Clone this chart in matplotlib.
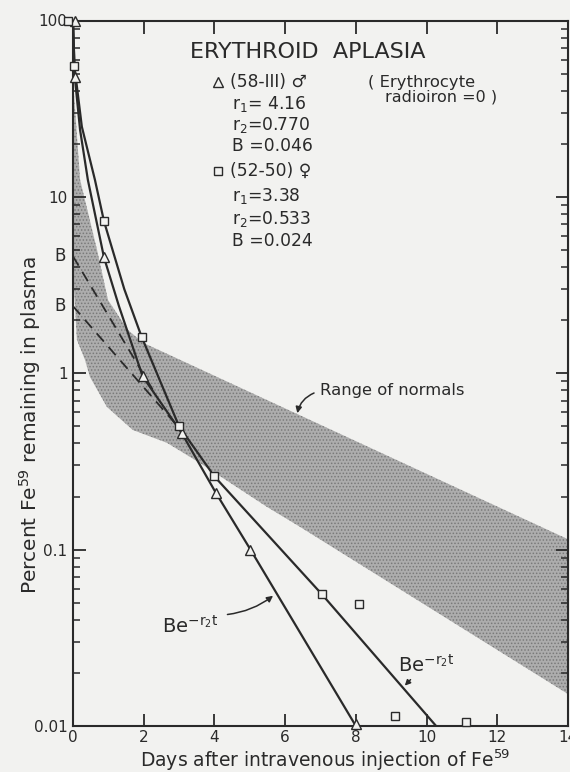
import numpy as np
import matplotlib
matplotlib.use("Agg")
import matplotlib.pyplot as plt
from matplotlib.ticker import LogLocator, NullFormatter

# Aplasia eritroide: % de Fe59 que queda en plasma frente a días

# curva (58-III), triángulos
tri_t = [0, 0.05, 0.2, 0.42, 0.875, 1.3, 1.97, 3.07, 4.04, 5.02, 8.0]
tri_v = [100, 48, 24, 12.5, 4.55, 2.4, 0.96, 0.46, 0.21, 0.1, 0.01]
tri_pts_t = [0.06, 0.05, 0.875, 1.97, 3.07, 4.04, 5.02, 8.0]
tri_pts_v = [100, 48, 4.55, 0.96, 0.46, 0.21, 0.1, 0.0103]

# curva (52-50), cuadrados
sq_t = [0, 0.04, 0.25, 0.62, 0.876, 1.45, 1.94, 3.0, 4.0, 7.04, 10.27]
sq_v = [100, 55, 25, 12.5, 7.28, 3.0, 1.61, 0.50, 0.26, 0.0558, 0.01]
sq_pts_t = [-0.15, 0.04, 0.876, 1.94, 3.0, 4.0, 7.04, 8.08, 9.11, 11.12]
sq_pts_v = [100, 55, 7.28, 1.61, 0.50, 0.26, 0.0558, 0.049, 0.0114, 0.0106]

# rectas B e^{-r2 t} (tramo discontinuo)
tri_b_t = [0, 2.3]
tri_b_v = [4.6, 0.78]
sq_b_t = [0, 3.0]
sq_b_v = [2.4, 0.49]

# banda de normales
upper_t = [0, 0.2, 0.68, 0.99, 1.55, 1.98, 14.04]
upper_v = [46, 12.5, 5.0, 2.6, 1.76, 1.49, 0.1135]
lower_t = [0, 0.03, 0.11, 0.34, 0.48, 0.96, 1.69, 2.66, 3.59, 5.48, 6.41, 14.04]
lower_v = [46, 3.0, 1.55, 1.19, 0.953, 0.644, 0.477, 0.403, 0.31, 0.175, 0.135, 0.015]

y_ticks = [0.01, 0.1, 1, 10, 100]
y_labels = ['0.01', '0.1', '1', '10', '100']
x_ticks = [0, 2, 4, 6, 8, 10, 12, 14]

ink = '#2a2a2a'
paper = '#f2f2f0'

plt.rcParams['font.family'] = ['DejaVu Sans']
plt.rcParams['mathtext.default'] = 'regular'
plt.rcParams['hatch.linewidth'] = 0.7

W, H = 570, 772
fig = plt.figure(figsize=(W / 100, H / 100), dpi=100, facecolor=paper)
ax = fig.add_axes([73 / W, 1 - 726 / H, (568 - 73) / W, (726 - 20.5) / H])
ax.set_facecolor(paper)
ax.set_yscale('log')
ax.set_xlim(0, 14)
ax.set_ylim(0.01, 100)


def px(x, y):
    return x / W, 1 - y / H


# banda sombreada
band_t = np.concatenate([upper_t, lower_t[::-1]])
band_v = np.concatenate([upper_v, lower_v[::-1]])
ax.fill(band_t, band_v, facecolor='#adadad', edgecolor='#7a7a7a',
        hatch='.....', linewidth=0, zorder=1)

ax.plot(tri_t, tri_v, color=ink, lw=1.6, zorder=3)
ax.plot(sq_t, sq_v, color=ink, lw=1.6, zorder=3)
ax.plot(tri_b_t, tri_b_v, color=ink, lw=1.3, ls=(0, (6, 4)), zorder=3)
ax.plot(sq_b_t, sq_b_v, color=ink, lw=1.3, ls=(0, (6, 4)), zorder=3)

ax.plot(tri_pts_t, tri_pts_v, ls='none', marker='^', ms=7, mfc=paper,
        mec=ink, mew=1.0, zorder=5, clip_on=False)
ax.plot(sq_pts_t, sq_pts_v, ls='none', marker='s', ms=5.5, mfc=paper,
        mec=ink, mew=1.0, zorder=5, clip_on=False)

# ejes
for s in ax.spines.values():
    s.set_color(ink)
    s.set_linewidth(1.5)
ax.set_xticks(x_ticks, [str(v) for v in x_ticks])
ax.set_yticks(y_ticks, y_labels)
ax.yaxis.set_minor_locator(LogLocator(base=10, subs=np.arange(2, 10)))
ax.yaxis.set_minor_formatter(NullFormatter())
ax.tick_params(which='both', direction='in', top=True, right=True,
               color=ink, labelcolor=ink, labelsize=11)
ax.tick_params(which='major', length=9, width=1.3, pad=4)
ax.tick_params(which='minor', length=5, width=1.1)
ax.tick_params(axis='x', pad=3)

# rótulos B
ax.text(-0.2, 4.6, 'B', ha='right', va='center', fontsize=12, color=ink)
ax.text(-0.2, 2.4, 'B', ha='right', va='center', fontsize=12, color=ink)

fig.text(*px(30, 425), 'Percent Fe$^{59}$ remaining in plasma', rotation=90,
         ha='center', va='center', fontsize=14.5, color=ink)
fig.text(*px(325, 767), 'Days after intravenous injection of Fe$^{59}$',
         ha='center', va='baseline', fontsize=13.5, color=ink)

# leyenda / anotaciones
fig.text(*px(190, 52), 'ERYTHROID  APLASIA', ha='left', va='center',
         fontsize=16, color=ink)
leg = [(82, '(58-III) \u2642'), (104, 'r$_1$= 4.16'), (125, 'r$_2$=0.770'),
       (146, 'B =0.046'), (171, '(52-50) \u2640'), (196, 'r$_1$=3.38'),
       (219, 'r$_2$=0.533'), (241, 'B =0.024')]
for yy, txt in leg:
    xx = 230 if txt.startswith('(') else 232
    fig.text(*px(xx, yy), txt, ha='left', va='center', fontsize=12.3, color=ink)
ax.plot([px(218, 82)[0]], [px(218, 82)[1]], transform=fig.transFigure,
        marker='^', ms=7, mfc='none', mec=ink, mew=1.0, clip_on=False)
ax.plot([px(218, 171)[0]], [px(218, 171)[1]], transform=fig.transFigure,
        marker='s', ms=5.5, mfc='none', mec=ink, mew=1.0, clip_on=False)
fig.text(*px(368, 82), '( Erythrocyte', ha='left', va='center', fontsize=11.8, color=ink)
fig.text(*px(385, 97), 'radioiron =0 )', ha='left', va='center', fontsize=11.5, color=ink)

ax.text(7.0, 0.753, 'Range of normals', ha='left', va='baseline',
        fontsize=11.8, color=ink)
ax.annotate('', xy=(6.33, 0.573), xytext=(6.89, 0.783),
            arrowprops=dict(arrowstyle='-|>', color=ink, lw=1.1,
                            connectionstyle='arc3,rad=0.3', mutation_scale=9))

ax.text(2.51, 0.0337, 'Be$^{-r_2 t}$', ha='left', va='baseline',
        fontsize=14, color=ink)
ax.annotate('', xy=(5.72, 0.056), xytext=(4.29, 0.0427),
            arrowprops=dict(arrowstyle='-|>', color=ink, lw=1.1,
                            connectionstyle='arc3,rad=0.15', mutation_scale=9))
ax.text(9.2, 0.0203, 'Be$^{-r_2 t}$', ha='left', va='baseline',
        fontsize=14, color=ink)
ax.annotate('', xy=(9.33, 0.0165), xytext=(9.6, 0.0188),
            arrowprops=dict(arrowstyle='-|>', color=ink, lw=1.1,
                            mutation_scale=8))

fig.savefig('out.png', dpi=100, facecolor=paper)
